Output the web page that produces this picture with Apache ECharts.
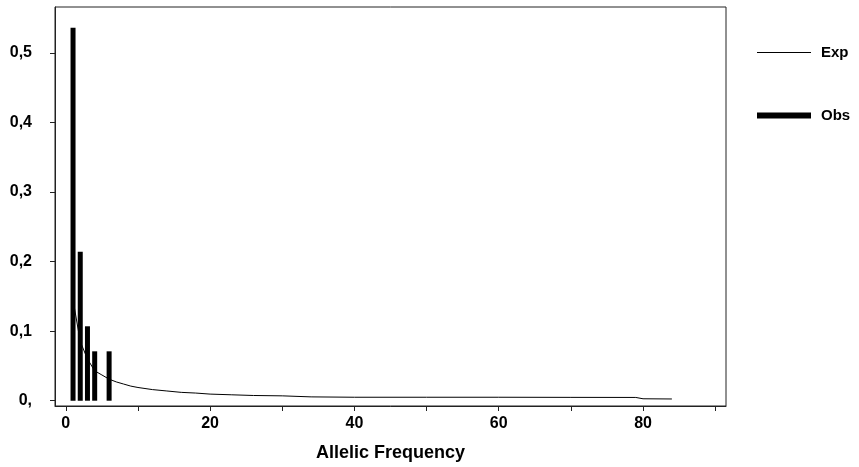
<!DOCTYPE html>
<html>
<head>
<meta charset="utf-8">
<script src="https://cdn.jsdelivr.net/npm/echarts@6/dist/echarts.min.js"></script>
<style>
  html, body { margin: 0; padding: 0; background: #fff; }
  #chart { width: 859px; height: 467px; }
</style>
</head>
<body>
<div id="chart"></div>
<script>
// observed allele frequency classes (proportion of alleles)
var obsX = [1, 2, 3, 4, 6];
var obsY = [0.536, 0.214, 0.107, 0.071, 0.071];

// expected curve
var expX = [1, 2, 3, 4, 5, 6, 7, 8, 9, 10, 12, 14, 16, 18, 20, 23, 26, 30, 34, 40, 50, 60, 70, 79, 80, 84];
var expY = [0.145, 0.085, 0.06, 0.043, 0.037, 0.031, 0.027, 0.024, 0.021, 0.019, 0.016, 0.014, 0.012, 0.011,
            0.0095, 0.0085, 0.0075, 0.007, 0.0055, 0.005, 0.005, 0.005, 0.0048, 0.0047, 0.0028, 0.0025];

var xTicks = [0, 10, 20, 30, 40, 50, 60, 70, 80, 90];
var xLabels = [0, 20, 40, 60, 80];
var yTicks = [0, 0.1, 0.2, 0.3, 0.4, 0.5];

var obsData = [];
obsX.forEach(function(x, i){ obsData.push([x, obsY[i]]) });
var expData = [];
expX.forEach(function(x, i){ expData.push([x, expY[i]]) });

var fnt = 'Liberation Sans, Arial, sans-serif';
var myChart = echarts.init(document.getElementById('chart'));

var option = {
    animation: false,
    backgroundColor: '#fff',
    grid: {
        left: 55, right: 133, top: 7, bottom: 60,
        show: true, borderColor: '#222', borderWidth: 1
    },
    legend: [{
        data: [{ name: 'Exp', icon: 'rect' }],
        left: 757, top: 45,
        padding: 0,
        itemWidth: 54, itemHeight: 1,
        textStyle: { fontFamily: fnt, fontWeight: 'bold', fontSize: 15, color: '#000', padding: [0, 0, 0, 5] }
    }, {
        data: [{ name: 'Obs', icon: 'rect' }],
        left: 757, top: 108,
        padding: 0,
        itemWidth: 54, itemHeight: 6,
        textStyle: { fontFamily: fnt, fontWeight: 'bold', fontSize: 15, color: '#000', padding: [0, 0, 0, 5] }
    }],
    xAxis: {
        type: 'value',
        min: -1.5, max: 91.5,
        name: 'Allelic Frequency',
        nameLocation: 'middle',
        nameGap: 38,
        nameTextStyle: { fontFamily: fnt, fontWeight: 'bold', fontSize: 18, color: '#000', verticalAlign: 'top' },
        axisLine: { onZero: false, lineStyle: { color: '#222', width: 1 } },
        axisTick: { show: true, length: 5, inside: false, customValues: xTicks, lineStyle: { color: '#222' } },
        axisLabel: { customValues: xLabels, margin: 10, fontFamily: fnt, fontWeight: 'bold', fontSize: 16, color: '#000' },
        splitLine: { show: false }
    },
    yAxis: {
        type: 'value',
        min: -0.0076, max: 0.566,
        axisLine: { show: true, onZero: false, lineStyle: { color: '#222', width: 1 } },
        axisTick: { show: true, length: 5, customValues: yTicks, lineStyle: { color: '#222' } },
        axisLabel: {
            customValues: yTicks, margin: 23,
            fontFamily: fnt, fontWeight: 'bold', fontSize: 16, color: '#000',
            formatter: function(v){
                if(v == 0){
                    return '0,'
                }
                return v.toFixed(1).replace('.', ',')
            }
        },
        splitLine: { show: false }
    },
    series: [{
        name: 'Obs',
        type: 'bar',
        data: obsData,
        barWidth: 5,
        itemStyle: { color: '#000' }
    }, {
        name: 'Exp',
        type: 'line',
        data: expData,
        symbol: 'none',
        lineStyle: { color: '#000', width: 1 },
        itemStyle: { color: '#000' }
    }]
};

myChart.setOption(option);
</script>
</body>
</html>
